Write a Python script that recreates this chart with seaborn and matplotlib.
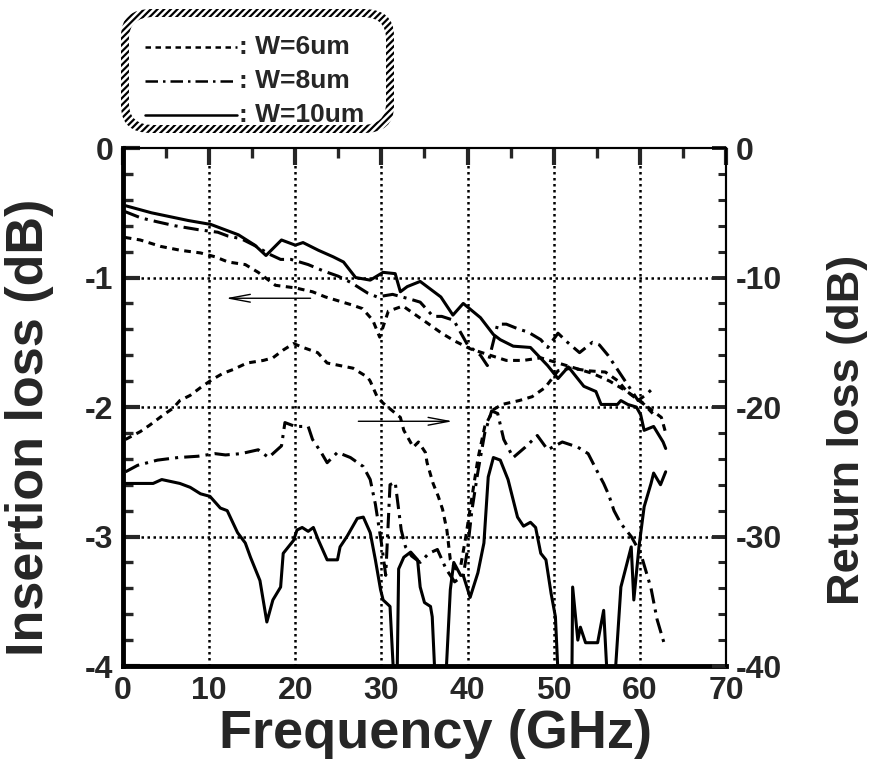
import numpy as np
import pandas as pd
import matplotlib
matplotlib.use("Agg")
import matplotlib.pyplot as plt
from matplotlib.patches import FancyBboxPatch
from matplotlib.lines import Line2D
import seaborn as sns

# insertion loss (left axis, dB)
f_il10 = [0, 3.3, 7.6, 10.2, 13.4, 15.3, 16.6, 18.4, 20, 20.9, 22.7, 24.4, 25.6, 27, 28.7,
          30.2, 31.6, 32.2, 33, 34.5, 36.9, 38.3, 39.5, 41.5, 43, 43.8, 45.3, 47.3, 49.3, 50.5,
          51.7, 53.5, 54.9, 55.5, 57.4, 57.8, 58.6, 59.6, 60.1, 60.5, 61.6, 62.7, 63]
il10 = [-0.44, -0.50, -0.56, -0.59, -0.67, -0.75, -0.83, -0.71, -0.75, -0.73, -0.79, -0.84, -0.88,
        -1.0, -1.02, -0.96, -0.97, -1.11, -1.07, -1.03, -1.15, -1.29, -1.2, -1.31, -1.44, -1.48,
        -1.53, -1.54, -1.68, -1.78, -1.69, -1.84, -1.88, -1.98, -1.98, -1.95, -1.98, -2.0, -2.06,
        -2.18, -2.15, -2.27, -2.32]

f_il8 = [0.2, 2.1, 4, 6, 8.7, 11, 12.2, 13.7, 15.5, 17, 18.3, 19.5, 20.5, 21.5, 23.3, 25, 26.5,
         28.4, 29.5, 31.3, 33.5, 34.5, 36, 37, 38.4, 40, 41.5, 42.3, 43.5, 44.5, 46, 47, 48.5, 49.3,
         50.5, 51.6, 53, 54.5, 55.3, 56.3, 57.5, 58.5, 59.8, 60.8, 61.6]
il8 = [-0.49, -0.54, -0.57, -0.6, -0.63, -0.65, -0.68, -0.7, -0.76, -0.82, -0.86, -0.86, -0.88,
       -0.9, -0.95, -0.99, -1.04, -1.12, -1.15, -1.13, -1.17, -1.19, -1.3, -1.3, -1.33, -1.52,
       -1.6, -1.68, -1.36, -1.36, -1.4, -1.42, -1.48, -1.54, -1.43, -1.5, -1.58, -1.5, -1.52,
       -1.6, -1.72, -1.82, -1.95, -1.9, -1.85]

f_il6 = [0.2, 2, 4.4, 6.7, 9, 10.7, 12.2, 14.2, 15.7, 17.7, 20, 22, 23.5, 25, 26.5, 27.8, 29,
         29.8, 30.8, 32.5, 34, 35.3, 37, 38.5, 40.3, 42.6, 44.5, 46.5, 48.5, 50.5, 52.5, 54.5,
         56.5, 58.5, 60, 61.5, 62.5, 63]
il6 = [-0.69, -0.71, -0.76, -0.79, -0.81, -0.84, -0.88, -0.9, -0.96, -1.06, -1.08, -1.11, -1.15,
       -1.18, -1.21, -1.24, -1.33, -1.46, -1.26, -1.22, -1.29, -1.35, -1.43, -1.49, -1.55, -1.6,
       -1.64, -1.64, -1.62, -1.66, -1.7, -1.74, -1.8, -1.88, -1.95, -2.03, -2.08, -2.2]

# return loss (right axis, dB); values below -40 run off the bottom of the frame
f_rl10 = [0, 3.5, 4.5, 6.6, 7.8, 9, 10.1, 11.3, 12.1, 13.3, 14.2, 14.8, 15.9, 16.7, 17.4, 18.3,
          18.6, 19.8, 20.2, 20.8, 21.5, 22.1, 22.7, 23.7, 24.9, 25.2, 26, 27.2, 27.9, 28.7, 29.3,
          29.9, 30.2, 31, 31.4, 31.8, 32, 32.6, 33.4, 34.2, 34.5, 35, 35.7, 35.9, 36.3, 37.4, 38,
          38.4, 39.2, 39.5, 40.3, 41.2, 41.9, 42.4, 43, 43.8, 44.7, 45.8, 46.5, 47.3, 47.9, 48.5,
          49.1, 49.7, 50.2, 50.6, 52.1, 52.2, 52.8, 53.1, 53.7, 55.1, 55.8, 56.3, 57, 57.8, 59,
          59.3, 59.9, 60.5, 61.3, 61.6, 62.4, 63]
rl10 = [-25.9, -25.9, -25.6, -25.9, -26.2, -26.7, -26.9, -27.8, -28, -29.7, -30.5, -31.6, -33.4,
        -36.6, -34.9, -33.9, -31.3, -30.3, -29.5, -29.3, -29.6, -29.3, -30.3, -31.8, -31.8, -30.8,
        -30, -28.6, -28.5, -29.7, -31.8, -34.1, -34.9, -35.4, -40.5, -42, -32.5, -31.6, -31.2,
        -31.8, -33.9, -35.1, -35.4, -36.2, -42, -42, -34.1, -32, -33, -33, -34.7, -32.8, -30.5,
        -25.4, -23.9, -24.1, -25.6, -28.5, -29.2, -28.9, -29.3, -31.3, -31.8, -34.4, -36.2, -42,
        -42, -33.9, -38, -37, -38.2, -38.2, -35.7, -42, -42, -33.9, -30.8, -34.9, -30.8, -27.7,
        -25.9, -25.1, -26, -25]

f_rl8 = [0.3, 1.7, 4, 6.4, 8.7, 10.7, 11.9, 13.7, 15.7, 16.9, 18.4, 18.8, 20, 21.5, 22, 23, 23.7,
         24.9, 26.4, 27.9, 28.7, 29.3, 30, 30.5, 31, 31.6, 32.3, 32.8, 33.5, 34.5, 35.5, 36.5, 37.5,
         38.5, 39.5, 40, 40.5, 41.2, 42, 42.8, 43.5, 44.2, 45.3, 46.7, 48.1, 49.3, 51, 52.8, 54,
         55, 55.8, 56.4, 57, 57.8, 59, 60.1, 61.3, 62, 62.8]
rl8 = [-25, -24.5, -24.1, -23.9, -23.8, -23.6, -23.7, -23.6, -23.3, -23.9, -23, -21.2, -21.5,
       -21.5, -22.5, -23.5, -24.3, -23.5, -23.9, -24.6, -25.6, -27.5, -30.5, -33, -26, -25.8,
       -29.5, -30.8, -31.5, -32, -31.3, -31, -32.5, -33.5, -33, -31, -28, -25, -22, -20.3, -20.5,
       -22.5, -23.9, -23.1, -22.2, -23.3, -22.7, -23.1, -23.6, -24.9, -25.9, -26.8, -28, -29,
       -30, -31.3, -34, -36.4, -38.2]

f_rl6 = [0.3, 2, 3.1, 4.7, 5.8, 6.6, 7.8, 9, 10.3, 11.6, 12.8, 14.4, 16.3, 17.4, 18.6, 19.8, 20.9,
         22.6, 23.7, 25.2, 26.7, 28.4, 28.7, 29.5, 30.2, 32.2, 32.6, 33.7, 34.3, 35.1, 35.3, 36,
         36.6, 37.1, 37.6, 38, 38.6, 39.2, 39.8, 40.5, 41.2, 42, 43, 44, 46, 47.5, 49, 50.5, 52,
         54, 56, 57.5, 58.5, 59.5, 60.5, 61.5]
rl6 = [-22.5, -21.9, -21.4, -20.6, -20.1, -19.5, -19.1, -18.5, -17.9, -17.4, -17.1, -16.6, -16.4,
       -16.2, -15.6, -15.1, -15.4, -15.8, -16.6, -16.8, -17, -17.7, -18, -19.2, -19.7, -20.8,
       -21.8, -23.1, -22.7, -23.5, -24.3, -25.9, -26.9, -27.9, -29.5, -31.8, -32.5, -32.3, -30,
       -27, -24, -21.5, -20.2, -19.8, -19.5, -19.2, -18.5, -17.2, -17, -17.2, -17.3, -18, -18.8,
       -19.3, -19.8, -20.5]

labels = ["W=6um", "W=8um", "W=10um"]
styles = [(0, (2.2, 1.8)), (0, (5, 2, 1, 2)), "-"]

sns.set_style("white")
plt.rcParams["font.family"] = ["Liberation Sans", "DejaVu Sans"]
plt.rcParams["font.weight"] = "bold"
plt.rcParams["hatch.linewidth"] = 1.6

fig = plt.figure(figsize=(8.71, 7.69), dpi=100)
ax = fig.add_axes([0.1412, 0.1339, 0.6923, 0.6736])
ax2 = ax.twinx()

lw = 2.2
il_sets = [(f_il6, il6), (f_il8, il8), (f_il10, il10)]
rl_sets = [(f_rl6, rl6), (f_rl8, rl8), (f_rl10, rl10)]
for (fx, fy), ls in zip(il_sets, styles):
    sns.lineplot(x=fx, y=fy, ax=ax, color="black", lw=lw, linestyle=ls, sort=False)
for (fx, fy), ls in zip(rl_sets, styles):
    sns.lineplot(x=fx, y=fy, ax=ax2, color="black", lw=lw, linestyle=ls, sort=False)

ax.set_xlim(0, 70)
ax.set_ylim(-4, 0)
ax2.set_ylim(-40, 0)
ax.set_xticks(np.arange(0, 71, 10))
ax.set_xticks(np.arange(0, 71, 5), minor=True)
ax.set_yticks(np.arange(-4, 0.1, 1))
ax.set_yticks(np.arange(-4, 0.01, 0.2), minor=True)
ax2.set_yticks(np.arange(-40, 1, 10))
ax2.set_yticks(np.arange(-40, 0.1, 2), minor=True)
ax.set_yticklabels(["-4", "-3", "-2", "-1", "0"])
ax2.set_yticklabels(["-40", "-30", "-20", "-10", "0"])

ax.grid(True, which="major", color="black", linestyle=(0, (1, 1.4)), lw=1.8)
for g in [ax.get_xgridlines()[0], ax.get_xgridlines()[-1],
          ax.get_ygridlines()[0], ax.get_ygridlines()[-1]]:
    g.set_visible(False)

for a in (ax, ax2):
    for s in a.spines.values():
        s.set_linewidth(1.5)
        s.set_color("black")
ax.spines["left"].set_linewidth(3.5)
ax.spines["bottom"].set_linewidth(3.5)
ax2.spines["left"].set_visible(False)
ax2.spines["bottom"].set_visible(False)

ax.tick_params(axis="both", which="major", direction="in", length=12, width=3,
               labelsize=23, pad=7, top=True, right=False)
ax.tick_params(axis="both", which="minor", direction="in", length=7, width=2.4,
               top=True, right=False)
ax2.tick_params(axis="y", which="major", direction="in", length=10, width=2.8,
                labelsize=23, pad=7)
ax2.tick_params(axis="y", which="minor", direction="in", length=6, width=2.2)
for t in ax.get_xticklabels() + ax.get_yticklabels() + ax2.get_yticklabels():
    t.set_fontweight("bold")

ax.set_xlabel("Frequency (GHz)", fontsize=39, fontweight="bold")
ax.set_ylabel("Insertion loss (dB)", fontsize=37.5, fontweight="bold")
ax2.set_ylabel("Return loss (dB)", fontsize=32.5, fontweight="bold")
ax.xaxis.set_label_coords(0.518, -0.083)
ax.yaxis.set_label_coords(-0.115, 0.46)
ax2.yaxis.set_label_coords(1.167, 0.455)

# direction arrows
ax.annotate("", xy=(11.6, -1.16), xytext=(22.1, -1.16),
            arrowprops=dict(arrowstyle="->,head_length=1.5,head_width=0.28", lw=1.0, color="black"))
ax.annotate("", xy=(38.6, -2.11), xytext=(27.0, -2.11),
            arrowprops=dict(arrowstyle="->,head_length=1.5,head_width=0.28", lw=1.0, color="black"))

# legend box with hatched rounded border
W, H = 871.0, 769.0
outer = FancyBboxPatch((121 / W, 1 - 133 / H), 273 / W, 124 / H,
                       boxstyle="round,pad=0,rounding_size=0.035", transform=fig.transFigure,
                       facecolor="white", edgecolor="black", hatch="/////", lw=0)
inner = FancyBboxPatch((129 / W, 1 - 125 / H), 257 / W, 108 / H,
                       boxstyle="round,pad=0,rounding_size=0.028", transform=fig.transFigure,
                       facecolor="white", edgecolor="none", lw=0)
fig.add_artist(outer)
fig.add_artist(inner)
for i, (lab, ls) in enumerate(zip(labels, styles)):
    yy = 1 - (47 + 34 * i) / H
    fig.add_artist(Line2D([145 / W, 237 / W], [yy, yy], transform=fig.transFigure,
                          color="black", lw=1.8, linestyle=ls))
    fig.text(239 / W, yy, ": " + lab, fontsize=19, fontweight="bold", va="center", ha="left")

fig.savefig("out.png", dpi=100)
